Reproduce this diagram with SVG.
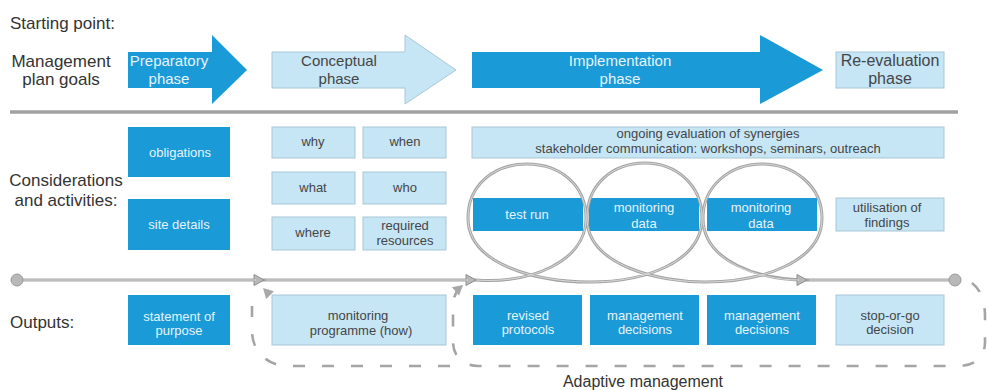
<svg xmlns="http://www.w3.org/2000/svg" width="987" height="390" viewBox="0 0 987 390">
<style>
text{font-family:"Liberation Sans",Arial,Helvetica,sans-serif}
.lbl{font-size:17px;fill:#333}
.ph{font-size:15px;text-anchor:middle}
.bx{font-size:13px;text-anchor:middle}
.w{fill:#e6f4fb}
.k{fill:#454545}
.dk{fill:#1a9ad7}
.lt{fill:#c6e6f6;stroke:#a9c7d5;stroke-width:1}
.ln{fill:none;stroke:#a4a4a4;stroke-width:3}
.lnc{fill:none;stroke:#dedede;stroke-width:0.9}
.dash{fill:none;stroke:#a5a5a5;stroke-width:2.6;stroke-dasharray:12 17}
</style>
<defs>
<marker id="tri" markerUnits="userSpaceOnUse" markerWidth="14" markerHeight="14" refX="11" refY="7" orient="auto">
<path d="M1,1.5 L11,7 L1,12.5 Z" fill="#b8b8b8" stroke="#8e8e8e" stroke-width="1"/>
</marker>
<marker id="dtri" markerUnits="userSpaceOnUse" markerWidth="14" markerHeight="14" refX="10" refY="7" orient="auto">
<path d="M0,1.5 L10,7 L0,12.5 Z" fill="#a8a8a8"/>
</marker>
</defs>
<rect width="987" height="390" fill="#ffffff"/>

<g id="labels">
<text class="lbl" x="10" y="29">Starting point:</text>
<text class="lbl" x="61" y="67" text-anchor="middle">Management</text>
<text class="lbl" x="61" y="85" text-anchor="middle">plan goals</text>
<text class="lbl" x="66" y="186" text-anchor="middle">Considerations</text>
<text class="lbl" x="66" y="206" text-anchor="middle">and activities:</text>
<text class="lbl" x="10" y="328">Outputs:</text>
<text class="lbl" x="643" y="387" text-anchor="middle" style="font-size:16px">Adaptive management</text>
</g>

<line id="divider" x1="10" y1="112" x2="958" y2="112" stroke="#a0a0a0" stroke-width="3.5"/>

<g id="phase-preparatory">
<path class="dk" d="M128 52 H212 V35 L247 70 L212 104 V88 H128 Z"/>
<text class="ph w" x="169" y="66">Preparatory</text>
<text class="ph w" x="169" y="84">phase</text>
</g>
<g id="phase-conceptual">
<path class="lt" d="M272 52 H405 V35 L456 70 L405 104 V88 H272 Z"/>
<text class="ph k" x="339" y="66">Conceptual</text>
<text class="ph k" x="339" y="84">phase</text>
</g>
<g id="phase-implementation">
<path class="dk" d="M472 52 H760 V35 L823 70 L760 104 V88 H472 Z"/>
<text class="ph w" x="620" y="66">Implementation</text>
<text class="ph w" x="620" y="84">phase</text>
</g>
<g id="phase-reevaluation">
<rect class="lt" x="836" y="52" width="108" height="36"/>
<text class="ph k" x="890" y="66" style="font-size:16px">Re-evaluation</text>
<text class="ph k" x="890" y="84" style="font-size:16px">phase</text>
</g>

<g id="obligations">
<rect class="dk" x="128" y="127" width="102" height="50"/>
<text class="bx w" x="180" y="157">obligations</text>
</g>
<g id="site-details">
<rect class="dk" x="128" y="199" width="102" height="51"/>
<text class="bx w" x="179" y="229">site details</text>
</g>
<g id="why">
<rect class="lt" x="272" y="127" width="83" height="31"/>
<text class="bx k" x="313" y="146">why</text>
</g>
<g id="when">
<rect class="lt" x="363" y="127" width="83" height="31"/>
<text class="bx k" x="405" y="146">when</text>
</g>
<g id="what">
<rect class="lt" x="272" y="172" width="83" height="32"/>
<text class="bx k" x="313" y="192">what</text>
</g>
<g id="who">
<rect class="lt" x="363" y="172" width="83" height="32"/>
<text class="bx k" x="405" y="192">who</text>
</g>
<g id="where">
<rect class="lt" x="272" y="217" width="83" height="33"/>
<text class="bx k" x="313" y="237">where</text>
</g>
<g id="required-resources">
<rect class="lt" x="363" y="217" width="83" height="33"/>
<text class="bx k" x="405" y="230">required</text>
<text class="bx k" x="405" y="245">resources</text>
</g>
<g id="ongoing">
<rect class="lt" x="472" y="127" width="472" height="31"/>
<text class="bx k" x="708" y="138">ongoing evaluation of synergies</text>
<text class="bx k" x="708" y="153">stakeholder communication: workshops, seminars, outreach</text>
</g>
<g id="test-run">
<rect class="dk" x="473" y="198" width="110" height="33"/>
<text class="bx w" x="527" y="219">test run</text>
</g>
<g id="monitoring-data-1">
<rect class="dk" x="589" y="198" width="110" height="33"/>
<text class="bx w" x="644" y="212">monitoring</text>
<text class="bx w" x="644" y="228">data</text>
</g>
<g id="monitoring-data-2">
<rect class="dk" x="707" y="198" width="110" height="33"/>
<text class="bx w" x="761" y="212">monitoring</text>
<text class="bx w" x="761" y="228">data</text>
</g>
<g id="utilisation">
<rect class="lt" x="836" y="198" width="108" height="33"/>
<text class="bx k" x="887" y="212">utilisation of</text>
<text class="bx k" x="887" y="227">findings</text>
</g>

<g id="statement">
<rect class="dk" x="128" y="295" width="102" height="50"/>
<text class="bx w" x="179" y="321">statement of</text>
<text class="bx w" x="179" y="335">purpose</text>
</g>
<g id="monitoring-programme">
<rect class="lt" x="272" y="295" width="174" height="50"/>
<text class="bx k" x="358" y="320">monitoring</text>
<text class="bx k" x="361" y="335">programme (how)</text>
</g>
<g id="revised-protocols">
<rect class="dk" x="473" y="295" width="109" height="50"/>
<text class="bx w" x="528" y="320">revised</text>
<text class="bx w" x="528" y="334">protocols</text>
</g>
<g id="management-decisions-1">
<rect class="dk" x="590" y="295" width="109" height="50"/>
<text class="bx w" x="645" y="320">management</text>
<text class="bx w" x="645" y="334">decisions</text>
</g>
<g id="management-decisions-2">
<rect class="dk" x="707" y="295" width="109" height="50"/>
<text class="bx w" x="762" y="320">management</text>
<text class="bx w" x="762" y="334">decisions</text>
</g>
<g id="stop-or-go">
<rect class="lt" x="836" y="295" width="108" height="50"/>
<text class="bx k" x="890" y="320">stop-or-go</text>
<text class="bx k" x="890" y="334">decision</text>
</g>

<g id="connectors">
<path id="seg1" class="ln" d="M17 280 H264" marker-end="url(#tri)"/>
<path id="seg2" class="ln" d="M264 280 H476" marker-end="url(#tri)"/>
<path id="coil" class="ln" d="M476 280 C530 284 586 262 586 218 C586 185 560 164 527 164 C494 164 468 185 468 218 C468 266 540 282 590 282 C645 282 702 262 702 218 C702 185 676 163 645 163 C612 163 587 185 587 218 C587 266 660 282 705 282 C762 282 822 262 822 218 C822 186 794 164 762 164 C730 164 703 186 703 218 C703 262 760 280 807 280" marker-end="url(#tri)"/>
<path id="seg3" class="ln" d="M807 280 H955"/>
<path class="lnc" d="M17 280 H256 M266 280 H468 M476 280 C530 284 586 262 586 218 C586 185 560 164 527 164 C494 164 468 185 468 218 C468 266 540 282 590 282 C645 282 702 262 702 218 C702 185 676 163 645 163 C612 163 587 185 587 218 C587 266 660 282 705 282 C762 282 822 262 822 218 C822 186 794 164 762 164 C730 164 703 186 703 218 C703 262 760 280 799 280 M809 280 H955"/>
<circle cx="17" cy="280" r="6" fill="#b8b8b8" stroke="#9a9a9a" stroke-width="1"/>
<circle cx="955" cy="280" r="6" fill="#b8b8b8" stroke="#9a9a9a" stroke-width="1"/>
<path id="loop-b" class="dash" d="M972 283 C980 289 985 300 985 316 L985 342 C985 357 975 366 958 366 L478 366 C463 366 453 356 453 342 L453 306 C453 297 456 291 463 285" marker-end="url(#dtri)"/>
<path id="loop-a" class="dash" d="M450 366 L288 366 C267 366 252 351 252 331 L252 306"/>
<path d="M270 295 L263 288" fill="none" stroke="none" marker-end="url(#dtri)"/>
</g>
</svg>
